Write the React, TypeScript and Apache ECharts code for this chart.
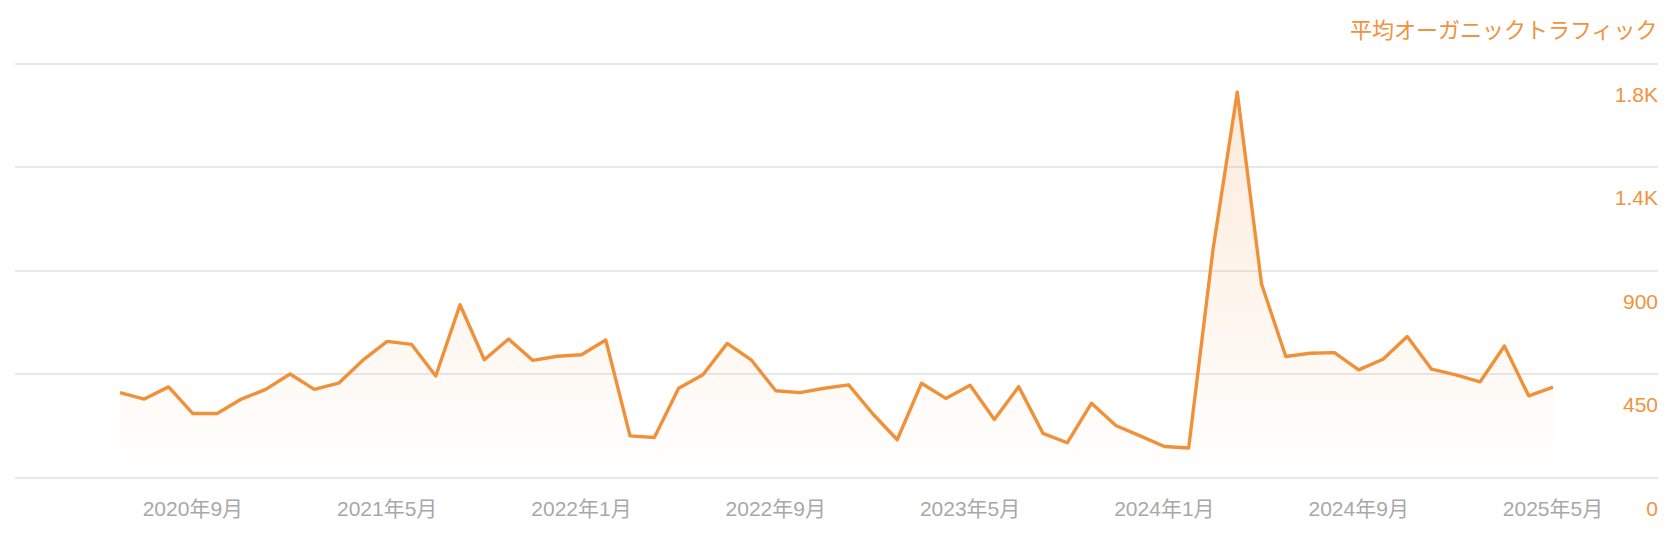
import React, { useEffect, useRef } from "react";
import * as echarts from "echarts";

const TITLE = "平均オーガニックトラフィック";

const months = [
  "2020年6月", "2020年7月", "2020年8月", "2020年9月", "2020年10月", "2020年11月", "2020年12月",
  "2021年1月", "2021年2月", "2021年3月", "2021年4月", "2021年5月", "2021年6月", "2021年7月",
  "2021年8月", "2021年9月", "2021年10月", "2021年11月", "2021年12月",
  "2022年1月", "2022年2月", "2022年3月", "2022年4月", "2022年5月", "2022年6月", "2022年7月",
  "2022年8月", "2022年9月", "2022年10月", "2022年11月", "2022年12月",
  "2023年1月", "2023年2月", "2023年3月", "2023年4月", "2023年5月", "2023年6月", "2023年7月",
  "2023年8月", "2023年9月", "2023年10月", "2023年11月", "2023年12月",
  "2024年1月", "2024年2月", "2024年3月", "2024年4月", "2024年5月", "2024年6月", "2024年7月",
  "2024年8月", "2024年9月", "2024年10月", "2024年11月", "2024年12月",
  "2025年1月", "2025年2月", "2025年3月", "2025年4月", "2025年5月",
];

const traffic = [
  369, 341, 394, 278, 278, 341, 383, 450, 383, 410,
  510, 592, 579, 441, 751, 512, 602, 509, 527, 534,
  598, 181, 174, 388, 447, 583, 510, 377, 369, 388,
  403, 276, 164, 410, 344, 401, 252, 395, 192, 151,
  323, 226, 181, 135, 128, 990, 1675, 841, 526, 540,
  543, 468, 514, 613, 471, 446, 416, 572, 355, 393,
];

const shownLabels = [
  "2020年9月", "2021年5月", "2022年1月", "2022年9月",
  "2023年5月", "2024年1月", "2024年9月", "2025年5月",
];

const yMin = 0;
const yMax = 1800;
const yStep = 450;

const ORANGE = "#F0913A";
const LABEL_ORANGE = "#F0933E";
const GRAY = "#A8A8A8";
const FONT = '"Liberation Sans", Arial, "Noto Sans CJK JP", sans-serif';

function fmt(v: number): string {
  if (v >= 1000) return (Math.round(v / 100) / 10).toFixed(1) + "K";
  return String(v);
}

export default function App() {
  const ref = useRef<HTMLDivElement>(null);

  useEffect(() => {
    if (!ref.current) return;
    const chart = echarts.init(ref.current, null, { renderer: "svg" });
    const top = 63.5;
    const bottom = 64.5;
    chart.setOption({
      animation: false,
      backgroundColor: "#ffffff",
      textStyle: { fontFamily: FONT },
      title: {
        text: TITLE,
        right: 22,
        top: 19,
        padding: 0,
        textStyle: {
          color: LABEL_ORANGE,
          fontSize: 22,
          fontWeight: "normal",
          fontFamily: FONT,
        },
      },
      grid: [
        { left: 15, right: 22, top, bottom, containLabel: false },
        { left: 120, right: 127, top, bottom, containLabel: false },
      ],
      xAxis: [
        {
          gridIndex: 0,
          type: "value",
          min: 0,
          max: 1,
          show: false,
        },
        {
          gridIndex: 1,
          type: "category",
          data: months,
          boundaryGap: false,
          axisLine: { show: false },
          axisTick: { show: false },
          splitLine: { show: false },
          axisLabel: {
            interval: (_i: number, v: string) => shownLabels.indexOf(v) >= 0,
            color: GRAY,
            fontSize: 21,
            fontFamily: FONT,
            margin: 20,
          },
        },
      ],
      yAxis: [
        {
          gridIndex: 0,
          type: "value",
          position: "right",
          min: yMin,
          max: yMax,
          interval: yStep,
          axisLine: { show: false },
          axisTick: { show: false },
          splitLine: { show: true, lineStyle: { color: "#E8E8E8", width: 2 } },
          axisLabel: {
            inside: true,
            margin: 0,
            align: "right",
            verticalAlign: "top",
            lineHeight: 21,
            padding: [20, 0, 0, 0],
            color: LABEL_ORANGE,
            fontSize: 21,
            fontFamily: FONT,
            showMinLabel: true,
            showMaxLabel: true,
            formatter: (v: number) => fmt(v),
          },
        },
        {
          gridIndex: 1,
          type: "value",
          min: yMin,
          max: yMax,
          interval: yStep,
          show: false,
          splitLine: { show: false },
        },
      ],
      series: [
        {
          type: "line",
          name: TITLE,
          xAxisIndex: 1,
          yAxisIndex: 1,
          data: traffic,
          symbol: "none",
          smooth: false,
          lineStyle: { color: ORANGE, width: 3.4, join: "round" },
          itemStyle: { color: ORANGE },
          areaStyle: {
            color: new echarts.graphic.LinearGradient(0, 0, 0, 1, [
              { offset: 0, color: "rgba(240,145,58,0.27)" },
              { offset: 1, color: "rgba(240,145,58,0.0)" },
            ]),
          },
        },
      ],
    });
    return () => chart.dispose();
  }, []);

  return (
    <div
      ref={ref}
      style={{ position: "fixed", left: 0, top: 0, width: 1680, height: 542, background: "#fff" }}
    />
  );
}
